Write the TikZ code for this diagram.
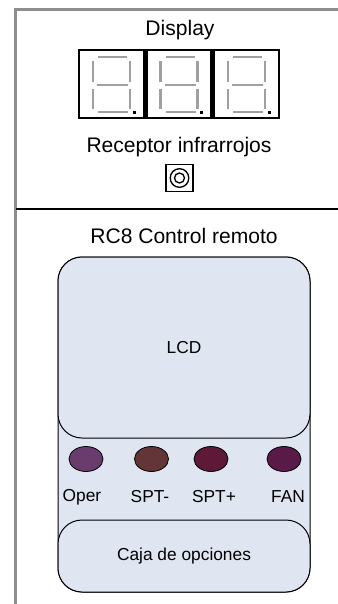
\documentclass[tikz,border=0pt]{standalone}
\usepackage{fontspec}
\setmainfont{Liberation Sans}
\usetikzlibrary{shapes.geometric}

\definecolor{framegray}{HTML}{8E8E8E}
\definecolor{seggray}{HTML}{A0A0A0}
\definecolor{remotefill}{HTML}{DFE6F1}
\definecolor{opercolor}{HTML}{6A3B6D}
\definecolor{sptmcolor}{HTML}{633538}
\definecolor{sptpcolor}{HTML}{5E1838}
\definecolor{fancolor}{HTML}{5A1A48}

\tikzset{every picture/.style={line width=0.75pt}}
\tikzset{
  bigtext/.style={font=\fontsize{15.8}{19}\selectfont},
  smalltext/.style={font=\fontsize{13}{15.5}\selectfont},
  digitbox/.style={draw, line width=1.6pt, minimum width=48.75pt, minimum height=51pt, inner sep=0pt},
  segment/.style={seggray, line width=2.1pt},
  panel/.style={draw, fill=remotefill, rounded corners=18pt, minimum width=189pt, inner sep=0pt},
  button/.style={ellipse, draw, line width=0.6pt, minimum width=25.5pt, minimum height=18.75pt, inner sep=0pt}
}

\begin{document}
\begin{tikzpicture}[x=0.75pt,y=0.75pt,yscale=-1]
  \useasboundingbox (0,0) rectangle (338,604);

  %Straight Lines [frame]
  \draw [framegray, line width=2.25pt]  (15,604) -- (15,9) -- (338,9) ;
  %Straight Lines [divider]
  \draw [line width=1.9pt]  (16,209) -- (338,209) ;

  % Text Node
  \draw (180,30) node (display) [bigtext] {Display};

  %Shape: Seven segment digits
  \foreach \dx [count=\i] in {0,67.5,135}{
    \node [digitbox] (digit\i) at (111.5+\dx,84) {};
    \draw [segment]  (98+\dx,57) -- (127+\dx,57) ;
    \draw [segment]  (97+\dx,85) -- (128+\dx,85) ;
    \draw [segment]  (98+\dx,112) -- (128+\dx,112) ;
    \draw [segment]  (93+\dx,61) -- (93+\dx,82) ;
    \draw [segment]  (93+\dx,89) -- (93+\dx,109) ;
    \draw [segment]  (130+\dx,61) -- (130+\dx,82) ;
    \draw [segment]  (130+\dx,89) -- (130+\dx,109) ;
    \fill (132.5+\dx,110.5) rectangle (135.5+\dx,113.5) ;
  }

  % Text Node
  \draw (179,147) node (receptor) [bigtext] {Receptor infrarrojos};
  %Shape: Infrared sensor
  \node [draw, line width=1.1pt, minimum width=20pt, minimum height=20.5pt, inner sep=0pt] (sensor) at (179.5,178) {};
  \draw [line width=1pt]  (sensor.center) circle (9.3) ;
  \draw [line width=1pt]  (sensor.center) circle (5) ;

  % Text Node
  \draw (184,236) node (remote) [bigtext] {RC8 Control remoto};

  %Shape: Remote body
  \draw [fill=remotefill, rounded corners=18pt]  (58,257) rectangle (310,592) ;
  \node [panel, minimum height=135.75pt, smalltext] (lcd) at (184,347.5) {LCD};
  \node [panel, minimum height=54pt, smalltext] (options) at (184,556) {Caja de opciones};

  %Shape: Buttons
  \node [button, fill=opercolor] (oper) at (86,459) {};
  \node [button, fill=sptmcolor] (sptminus) at (151.5,459) {};
  \node [button, fill=sptpcolor] (sptplus) at (211,459) {};
  \node [button, fill=fancolor] (fan) at (284,459) {};

  % Text Node
  \draw (82,497) node (operlabel) [smalltext] {Oper};
  \draw (150,497) node (sptminuslabel) [smalltext] {SPT-};
  \draw (214,497) node (sptpluslabel) [smalltext] {SPT+};
  \draw (288,497) node (fanlabel) [smalltext] {FAN};

\end{tikzpicture}
\end{document}
